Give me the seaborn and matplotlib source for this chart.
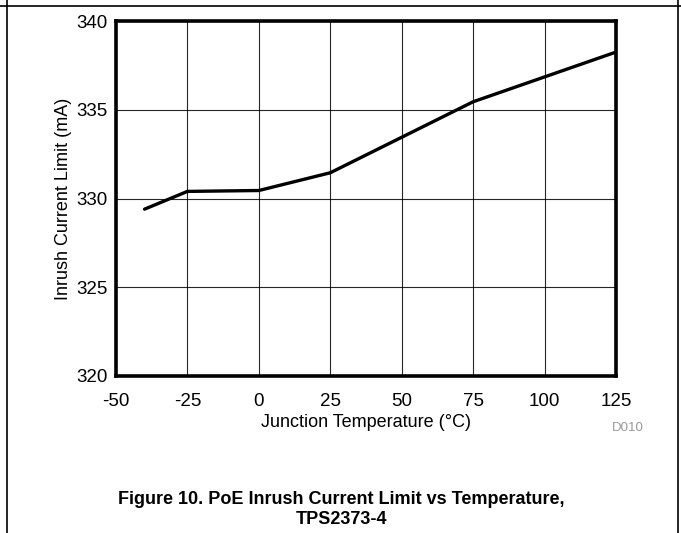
import matplotlib
matplotlib.use("Agg")
import matplotlib.pyplot as plt
from matplotlib.lines import Line2D
import seaborn as sns
import pandas as pd

# Inrush current limit measured over junction temperature
temperature_c = [-40, -25, 0, 25, 50, 75, 100, 125]
inrush_ma = [329.4, 330.4, 330.45, 331.45, 333.45, 335.45, 336.85, 338.25]

x_ticks = [-50, -25, 0, 25, 50, 75, 100, 125]
y_ticks = [320, 325, 330, 335, 340]

sns.set_theme(style="white")
plt.rcParams["font.family"] = ["Liberation Sans", "DejaVu Sans"]
plt.rcParams["text.color"] = "black"

df = pd.DataFrame({"Temperature": temperature_c, "Current": inrush_ma})

W, H = 681, 533
fig = plt.figure(figsize=(W / 100, H / 100), dpi=100)
fig.patch.set_facecolor("white")
ax = fig.add_axes([116 / W, 1 - 376 / H, 500 / W, 355 / H])

sns.lineplot(data=df, x="Temperature", y="Current", ax=ax, color="black",
             linewidth=2.4, zorder=3)

ax.set_xlim(-50, 125)
ax.set_ylim(320, 340)
ax.set_xticks(x_ticks)
ax.set_yticks(y_ticks)
ax.set_xticklabels([str(t) for t in x_ticks])
ax.set_yticklabels([str(t) for t in y_ticks])
ax.tick_params(axis="both", labelsize=13.5, colors="black", length=0)
ax.tick_params(axis="x", pad=12)
ax.tick_params(axis="y", pad=6)
ax.grid(True, color="black", linewidth=0.8, alpha=0.85)
for s in ax.spines.values():
    s.set_visible(True)
    s.set_color("black")
    s.set_linewidth(2.6)

ax.set_xlabel("Junction Temperature (°C)", fontsize=13, color="black", labelpad=3)
ax.set_ylabel("Inrush Current Limit (mA)", fontsize=13, color="black", labelpad=3)

fig.text(628 / W, 1 - 428 / H, "D010", fontsize=9.5, color="#999999",
         ha="center", va="center")
fig.text(341 / W, 1 - 500 / H, "Figure 10. PoE Inrush Current Limit vs Temperature,",
         fontsize=13, fontweight="bold", color="black", ha="center", va="center")
fig.text(341 / W, 1 - 520 / H, "TPS2373-4",
         fontsize=13, fontweight="bold", color="black", ha="center", va="center")

# surrounding document frame
fig.add_artist(Line2D([0, 1], [1 - 6 / H, 1 - 6 / H], color="black", linewidth=1.2))
fig.add_artist(Line2D([7 / W, 7 / W], [0, 1], color="black", linewidth=1.2))
fig.add_artist(Line2D([678 / W, 678 / W], [0, 1], color="black", linewidth=1.2))

fig.savefig("out.png", dpi=100)
